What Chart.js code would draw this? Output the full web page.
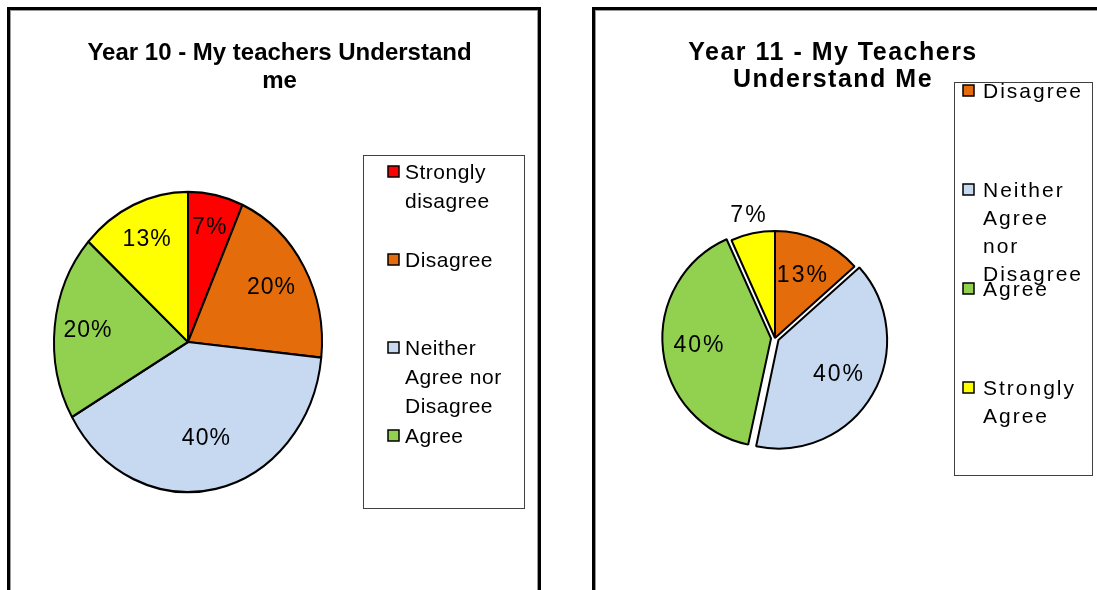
<!DOCTYPE html>
<html>
<head>
<meta charset="utf-8">
<title>My Teachers Understand Me</title>
<script src="https://cdn.jsdelivr.net/npm/chart.js@4.4.1/dist/chart.umd.min.js"></script>
<style>
  html, body { margin: 0; padding: 0; background: #fff; overflow: hidden; }
  body { width: 1097px; height: 590px; position: relative; }
  .panel { position: absolute; top: 7px; height: 600px; border: 3px solid #000; box-shadow: inset 0 0 0 1px #9a9a9a; background: #fff; }
  #panel10 { left: 7px; width: 528px; }
  #panel11 { left: 592px; width: 520px; }
  canvas { position: absolute; left: 0; top: 0; }
</style>
</head>
<body>
<div class="panel" id="panel10"><canvas id="pie10" width="528" height="580"></canvas></div>
<div class="panel" id="panel11"><canvas id="pie11" width="502" height="580"></canvas></div>
<script>
var FONT = '"Liberation Sans", Arial, sans-serif';

// Year 10 (15 students)
var y10Labels = ['Strongly disagree', 'Disagree', 'Neither Agree nor Disagree', 'Agree', 'Strongly Agree'];
var y10Values = [1, 3, 6, 3, 2];
var y10Colors = ['#ff0000', '#e46c0a', '#c6d9f1', '#92d050', '#ffff00'];

// Year 11 (15 students)
var y11Labels = ['Disagree', 'Neither Agree nor Disagree', 'Agree', 'Strongly Agree'];
var y11Values = [2, 6, 6, 1];
var y11Colors = ['#e46c0a', '#c6d9f1', '#92d050', '#ffff00'];
// chart.js draws offset / 4 px, so 16 -> 4px pull-out
var y11Offsets = [0, 16, 16, 0];

// split a label into lines that fit the legend column
function wrapText(ctx, text, maxWidth) {
    var words = text.split(' ');
    var lines = [];
    var cur = '';
    words.forEach(function (w) {
        var test = cur ? cur + ' ' + w : w;
        if (cur && ctx.measureText(test).width > maxWidth) {
            lines.push(cur);
            cur = w;
        } else {
            cur = test;
        }
    });
    if (cur) lines.push(cur);
    return lines;
}

// draws title, legend box, percentage labels and squashes the pie vertically
function sheetPlugin(cfg) {
    return {
        id: 'sheet',
        beforeDatasetsDraw: function (chart) {
            var ctx = chart.ctx, a = chart.chartArea;
            var cx = (a.left + a.right) / 2, cy = (a.top + a.bottom) / 2;
            ctx.save();
            ctx.translate(cx, cy);
            ctx.scale(1, cfg.scaleY);
            ctx.translate(-cx, -cy);
        },
        afterDatasetsDraw: function (chart) {
            var ctx = chart.ctx;
            ctx.restore();

            var meta = chart.getDatasetMeta(0);
            var data = chart.data.datasets[0].data;
            var total = data.reduce(function (s, v) { return s + v; }, 0);
            ctx.save();
            ctx.font = cfg.labelFont;
            ctx.letterSpacing = cfg.labelSpacing;
            ctx.fillStyle = '#000';
            ctx.textAlign = 'center';
            ctx.textBaseline = 'middle';
            meta.data.forEach(function (arc, i) {
                var p = arc.getProps(['x', 'y', 'startAngle', 'endAngle', 'outerRadius']);
                var mid = (p.startAngle + p.endAngle) / 2;
                var r = p.outerRadius * cfg.labelPos[i];
                var x = p.x + Math.cos(mid) * r;
                var y = p.y + Math.sin(mid) * r * cfg.scaleY;
                ctx.fillText(Math.round(data[i] / total * 100) + '%', x, y);
            });
            ctx.restore();
        },
        afterDraw: function (chart) {
            var ctx = chart.ctx;
            var t = cfg.title, lg = cfg.legend;

            // title
            ctx.save();
            ctx.font = t.font;
            ctx.letterSpacing = t.spacing;
            ctx.fillStyle = '#000';
            ctx.textAlign = 'center';
            ctx.textBaseline = 'alphabetic';
            t.lines.forEach(function (line, i) {
                ctx.fillText(line, t.x, t.y0 + i * t.lh);
            });
            ctx.restore();

            // legend
            ctx.save();
            ctx.strokeStyle = '#404040';
            ctx.lineWidth = 1;
            ctx.strokeRect(lg.box[0] + 0.5, lg.box[1] + 0.5, lg.box[2], lg.box[3]);
            ctx.font = lg.font;
            ctx.letterSpacing = lg.spacing;
            ctx.textAlign = 'left';
            ctx.textBaseline = 'alphabetic';
            var ds = chart.data.datasets[0];
            var y = lg.y0;
            chart.data.labels.forEach(function (label, i) {
                if (y > lg.box[1] + lg.box[3] - 10) return;
                ctx.fillStyle = ds.backgroundColor[i];
                ctx.fillRect(lg.x - lg.swatchGap, y - 13, 11, 11);
                ctx.strokeStyle = '#000';
                ctx.lineWidth = 1.5;
                ctx.strokeRect(lg.x - lg.swatchGap, y - 13, 11, 11);
                ctx.fillStyle = '#000';
                wrapText(ctx, label, lg.maxWidth).forEach(function (line, j) {
                    ctx.fillText(line, lg.x, y + j * lg.lh);
                });
                y += lg.step;
            });
            ctx.restore();
        }
    };
}

function makePie(canvasId, labels, values, colors, offsets, radius, padding, cfg) {
    return new Chart(document.getElementById(canvasId), {
        type: 'pie',
        data: {
            labels: labels,
            datasets: [{
                data: values,
                backgroundColor: colors,
                borderColor: '#000',
                borderWidth: 2,
                offset: offsets,
                radius: radius
            }]
        },
        options: {
            responsive: false,
            animation: false,
            events: [],
            layout: { padding: padding },
            plugins: {
                legend: { display: false },
                tooltip: { enabled: false },
                title: { display: false }
            }
        },
        plugins: [sheetPlugin(cfg)]
    });
}

makePie('pie10', y10Labels, y10Values, y10Colors, 0, 134,
    { left: 0, right: 172, top: 184, bottom: 100 },
    {
        scaleY: 1.12,
        labelFont: '23px ' + FONT,
        labelSpacing: '1px',
        labelPos: [0.78, 0.72, 0.66, 0.75, 0.75],
        title: {
            lines: ['Year 10 - My teachers Understand', 'me'],
            font: 'bold 24px ' + FONT, spacing: '0px',
            x: 269.5, y0: 50, lh: 28
        },
        legend: {
            box: [353, 145, 161, 353],
            font: '21px ' + FONT, spacing: '0.5px',
            x: 395, y0: 169, step: 88, lh: 29, maxWidth: 112, swatchGap: 17
        }
    });

makePie('pie11', y11Labels, y11Values, y11Colors, y11Offsets, 107,
    { left: 0, right: 142, top: 176, bottom: 100 },
    {
        scaleY: 1,
        labelFont: '23px ' + FONT,
        labelSpacing: '2px',
        labelPos: [0.64, 0.69, 0.71, 1.17],
        title: {
            lines: ['Year 11 - My Teachers', 'Understand Me'],
            font: 'bold 25px ' + FONT, spacing: '1.5px',
            x: 238, y0: 50, lh: 27
        },
        legend: {
            box: [359, 72, 138, 393],
            font: '21px ' + FONT, spacing: '2px',
            x: 388, y0: 88, step: 99, lh: 28, maxWidth: 104, swatchGap: 20
        }
    });
</script>
</body>
</html>
